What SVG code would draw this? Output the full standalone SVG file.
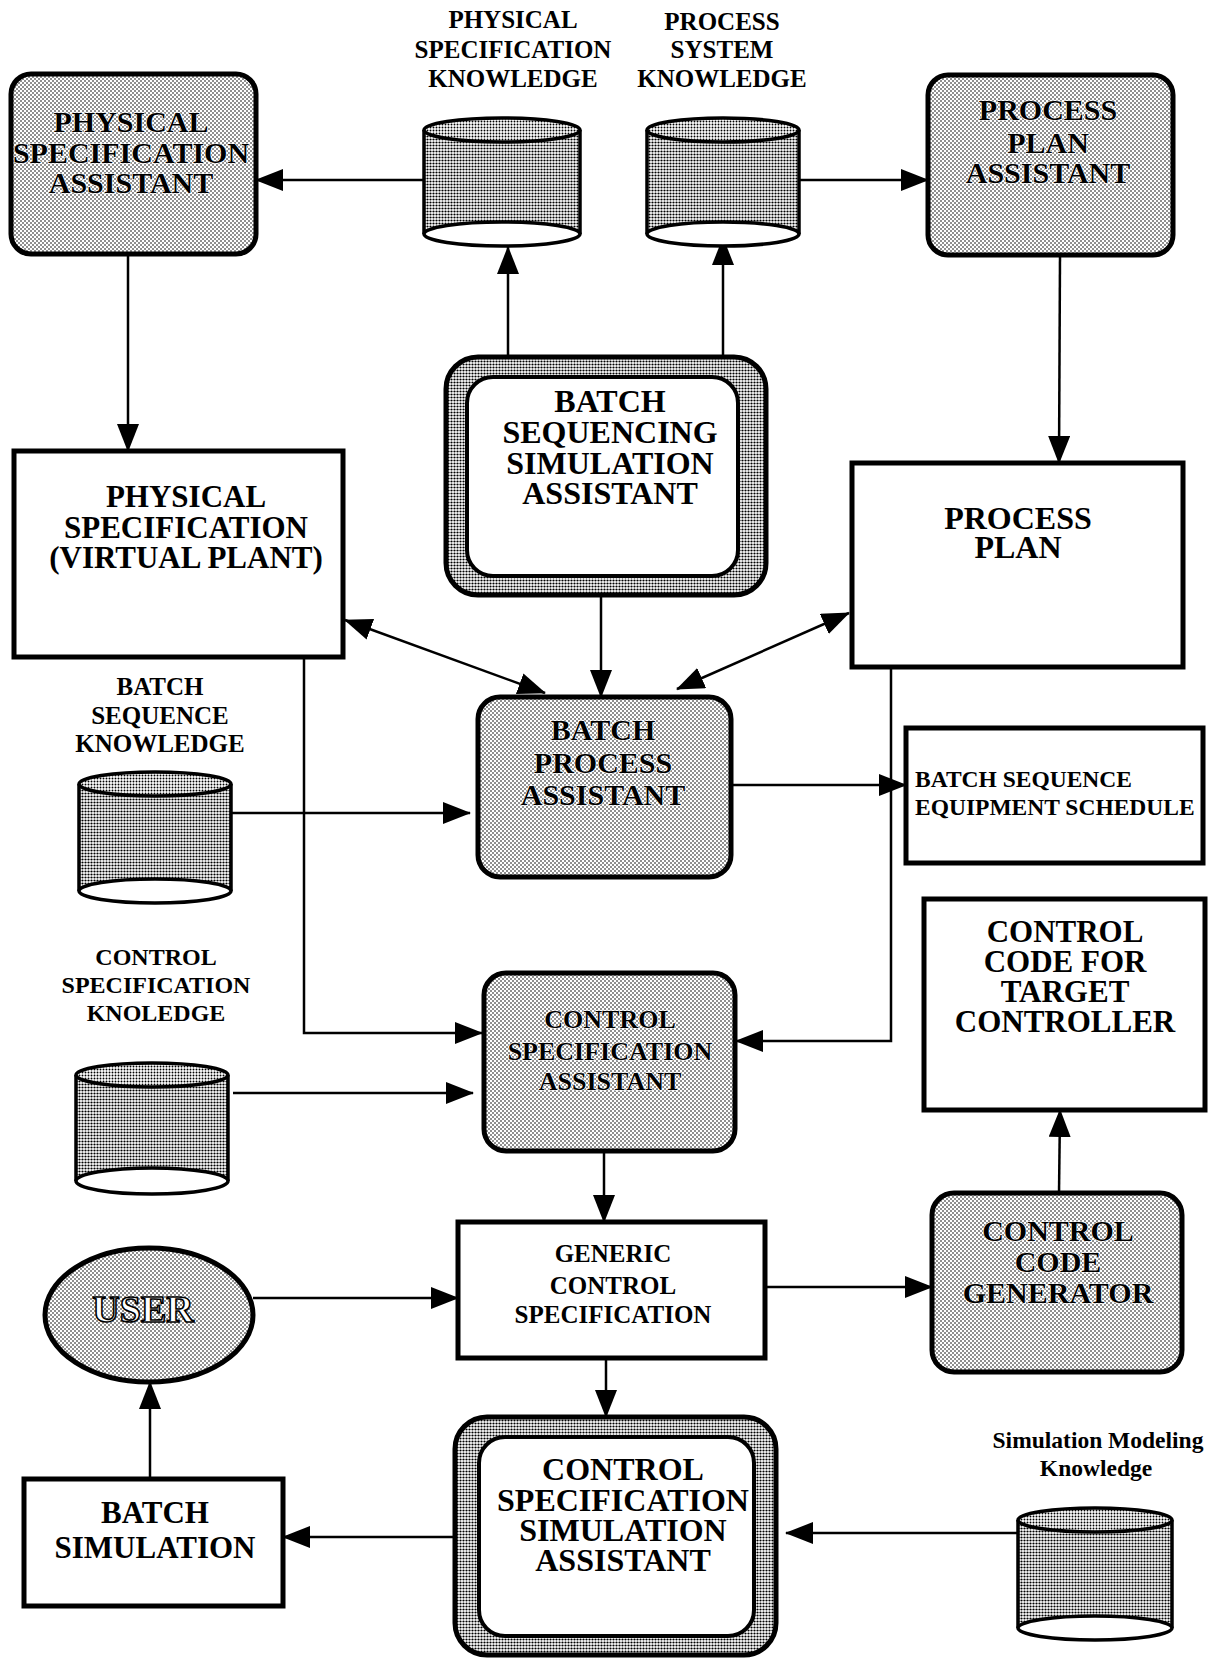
<svg xmlns="http://www.w3.org/2000/svg" width="1213" height="1658" viewBox="0 0 1213 1658">
<style>
.t{font-family:"Liberation Serif","Times New Roman",serif;font-weight:bold;text-anchor:middle;fill:#000}
.tl{text-anchor:start}
.box{fill:#fff;stroke:#000;stroke-width:5}
.sbox{fill:url(#lt);stroke:#000;stroke-width:5}
.ring{fill:url(#dk);stroke:#000;stroke-width:5}
.inner{fill:#fff;stroke:#000;stroke-width:4}
.cb{fill:url(#dk);stroke:none}
.cs{fill:none;stroke:#000;stroke-width:3.5}
.ct{fill:url(#md);stroke:#000;stroke-width:3.5}
.cbot{fill:#fff;stroke:#000;stroke-width:3.5}
.halo{paint-order:stroke;stroke:#fff;stroke-width:1.2}
.c{fill:none;stroke:#000;stroke-width:2.5}
.a{marker-end:url(#ah)}
.b{marker-start:url(#ah);marker-end:url(#ah)}
</style>
<defs>
<pattern id="lt" width="4" height="4" patternUnits="userSpaceOnUse"><rect width="4" height="4" fill="#fff"/><circle cx="1" cy="1" r="0.8" fill="#000"/><circle cx="3" cy="3" r="0.8" fill="#000"/></pattern>
<pattern id="md" width="3" height="3" patternUnits="userSpaceOnUse"><rect width="3" height="3" fill="#fff"/><circle cx="1.5" cy="1.5" r="0.95" fill="#000"/></pattern>
<pattern id="dk" width="3" height="3" patternUnits="userSpaceOnUse"><rect width="3" height="3" fill="#fff"/><circle cx="1.5" cy="1.5" r="1.12" fill="#000"/></pattern>
<marker id="ah" viewBox="0 0 28 22" refX="27" refY="11" markerWidth="28" markerHeight="22" markerUnits="userSpaceOnUse" orient="auto-start-reverse"><path d="M0,0 L28,11 L0,22 Z" fill="#000"/></marker>
</defs>
<rect width="1213" height="1658" fill="#fff"/>

<g id="connectors">
<path class="c a" d="M424,180 L256,180"/>
<path class="c a" d="M799,180 L928,180"/>
<path class="c a" d="M128,254 L128,451"/>
<path class="c a" d="M508,357 L508,247"/>
<path class="c a" d="M723,357 L723,238"/>
<path class="c a" d="M1060,255 L1059,463"/>
<path class="c b" d="M345,620 L545,693"/>
<path class="c b" d="M849,613 L677,689"/>
<path class="c a" d="M601,595 L601,697"/>
<path class="c a" d="M231,813 L470,813"/>
<path class="c a" d="M731,785 L906,785"/>
<path class="c a" d="M304,657 V1033 H482"/>
<path class="c a" d="M891,667 V1041 H736"/>
<path class="c a" d="M233,1093 L473,1093"/>
<path class="c a" d="M604,1151 L604,1222"/>
<path class="c a" d="M765,1287 L932,1287"/>
<path class="c a" d="M1059,1193 L1060,1110"/>
<path class="c a" d="M253,1298 L458,1298"/>
<path class="c a" d="M606,1358 L606,1417"/>
<path class="c a" d="M455,1537 L283,1537"/>
<path class="c a" d="M150,1479 L150,1382"/>
<path class="c a" d="M1018,1533 L786,1533"/>
</g>

<g id="physical-spec-assistant">
<rect class="sbox" x="11" y="74" width="245" height="180" rx="20"/>
<text class="t halo" font-size="30" x="131" y="132">PHYSICAL</text>
<text class="t halo" font-size="30" x="131" y="163">SPECIFICATION</text>
<text class="t halo" font-size="30" x="131" y="193">ASSISTANT</text>
</g>

<g id="physical-spec-knowledge">
<text class="t" font-size="25" x="513" y="28">PHYSICAL</text>
<text class="t" font-size="25" x="513" y="58">SPECIFICATION</text>
<text class="t" font-size="25" x="513" y="87">KNOWLEDGE</text>
<rect class="cb" x="424" y="130" width="156" height="104"/>
<path class="cs" d="M424,130 V234 M580,130 V234"/>
<ellipse class="ct" cx="502" cy="130" rx="78" ry="12"/>
<ellipse class="cbot" cx="502" cy="234" rx="78" ry="12"/>
</g>

<g id="process-system-knowledge">
<text class="t" font-size="25" x="722" y="30">PROCESS</text>
<text class="t" font-size="25" x="722" y="58">SYSTEM</text>
<text class="t" font-size="25" x="722" y="87">KNOWLEDGE</text>
<rect class="cb" x="647" y="130" width="152" height="104"/>
<path class="cs" d="M647,130 V234 M799,130 V234"/>
<ellipse class="ct" cx="723" cy="130" rx="76" ry="12"/>
<ellipse class="cbot" cx="723" cy="234" rx="76" ry="12"/>
</g>

<g id="process-plan-assistant">
<rect class="sbox" x="928" y="75" width="245" height="180" rx="20"/>
<text class="t halo" font-size="30" x="1048" y="120">PROCESS</text>
<text class="t halo" font-size="30" x="1048" y="153">PLAN</text>
<text class="t halo" font-size="30" x="1048" y="183">ASSISTANT</text>
</g>

<g id="batch-sequencing-simulation-assistant">
<rect class="ring" x="446" y="357" width="320" height="238" rx="32"/>
<rect class="inner" x="467" y="377" width="271" height="199" rx="26"/>
<text class="t" font-size="32" x="610" y="412">BATCH</text>
<text class="t" font-size="32" x="610" y="443">SEQUENCING</text>
<text class="t" font-size="32" x="610" y="474">SIMULATION</text>
<text class="t" font-size="32" x="610" y="504">ASSISTANT</text>
</g>

<g id="physical-specification">
<rect class="box" x="14" y="451" width="329" height="206"/>
<text class="t" font-size="31" x="186" y="507">PHYSICAL</text>
<text class="t" font-size="31" x="186" y="538">SPECIFICATION</text>
<text class="t" font-size="31" x="186" y="568">(VIRTUAL PLANT)</text>
</g>

<g id="process-plan">
<rect class="box" x="852" y="463" width="331" height="204"/>
<text class="t" font-size="32" x="1018" y="529">PROCESS</text>
<text class="t" font-size="32" x="1018" y="558">PLAN</text>
</g>

<g id="batch-process-assistant">
<rect class="sbox" x="478" y="697" width="253" height="180" rx="22"/>
<text class="t halo" font-size="30" x="603" y="740">BATCH</text>
<text class="t halo" font-size="30" x="603" y="773">PROCESS</text>
<text class="t halo" font-size="30" x="603" y="805">ASSISTANT</text>
</g>

<g id="batch-sequence-knowledge">
<text class="t" font-size="25" x="160" y="695">BATCH</text>
<text class="t" font-size="25" x="160" y="724">SEQUENCE</text>
<text class="t" font-size="25" x="160" y="752">KNOWLEDGE</text>
<rect class="cb" x="79" y="784" width="152" height="107"/>
<path class="cs" d="M79,784 V891 M231,784 V891"/>
<ellipse class="ct" cx="155" cy="784" rx="76" ry="12"/>
<ellipse class="cbot" cx="155" cy="891" rx="76" ry="12"/>
</g>

<g id="batch-sequence-equipment-schedule">
<rect class="box" x="906" y="728" width="297" height="135"/>
<text class="t tl" font-size="23.5" x="915" y="787">BATCH SEQUENCE</text>
<text class="t tl" font-size="23.5" x="915" y="815">EQUIPMENT SCHEDULE</text>
</g>

<g id="control-specification-knowledge">
<text class="t" font-size="24" x="156" y="965">CONTROL</text>
<text class="t" font-size="24" x="156" y="993">SPECIFICATION</text>
<text class="t" font-size="24" x="156" y="1021">KNOLEDGE</text>
<rect class="cb" x="76" y="1075" width="152" height="106"/>
<path class="cs" d="M76,1075 V1181 M228,1075 V1181"/>
<ellipse class="ct" cx="152" cy="1075" rx="76" ry="12"/>
<ellipse class="cbot" cx="152" cy="1181" rx="76" ry="13"/>
</g>

<g id="control-specification-assistant">
<rect class="sbox" x="484" y="973" width="251" height="178" rx="22"/>
<text class="t halo" font-size="26" x="610" y="1028">CONTROL</text>
<text class="t halo" font-size="26" x="610" y="1060">SPECIFICATION</text>
<text class="t halo" font-size="26" x="610" y="1090">ASSISTANT</text>
</g>

<g id="control-code-for-target-controller">
<rect class="box" x="924" y="899" width="281" height="211"/>
<text class="t" font-size="31" x="1065" y="942">CONTROL</text>
<text class="t" font-size="31" x="1065" y="972">CODE FOR</text>
<text class="t" font-size="31" x="1065" y="1002">TARGET</text>
<text class="t" font-size="31" x="1065" y="1032">CONTROLLER</text>
</g>

<g id="generic-control-specification">
<rect class="box" x="458" y="1222" width="307" height="136"/>
<text class="t" font-size="25" x="613" y="1262">GENERIC</text>
<text class="t" font-size="25" x="613" y="1294">CONTROL</text>
<text class="t" font-size="25" x="613" y="1323">SPECIFICATION</text>
</g>

<g id="control-code-generator">
<rect class="sbox" x="932" y="1193" width="250" height="179" rx="22"/>
<text class="t halo" font-size="30" x="1058" y="1241">CONTROL</text>
<text class="t halo" font-size="30" x="1058" y="1272">CODE</text>
<text class="t halo" font-size="30" x="1058" y="1303">GENERATOR</text>
</g>

<g id="user">
<ellipse class="sbox" cx="149" cy="1315" rx="104" ry="67"/>
<text class="t" font-size="38" x="143" y="1322" style="fill:#fff;stroke:#000;stroke-width:1.6">USER</text>
</g>

<g id="batch-simulation">
<rect class="box" x="24" y="1479" width="259" height="127"/>
<text class="t" font-size="31" x="155" y="1523">BATCH</text>
<text class="t" font-size="31" x="155" y="1558">SIMULATION</text>
</g>

<g id="control-specification-simulation-assistant">
<rect class="ring" x="455" y="1417" width="321" height="238" rx="32"/>
<rect class="inner" x="479" y="1437" width="275" height="199" rx="26"/>
<text class="t" font-size="32" x="623" y="1480">CONTROL</text>
<text class="t" font-size="32" x="623" y="1511">SPECIFICATION</text>
<text class="t" font-size="32" x="623" y="1541">SIMULATION</text>
<text class="t" font-size="32" x="623" y="1571">ASSISTANT</text>
</g>

<g id="simulation-modeling-knowledge">
<text class="t" font-size="23.5" x="1098" y="1448">Simulation Modeling</text>
<text class="t" font-size="23.5" x="1096" y="1476">Knowledge</text>
<rect class="cb" x="1018" y="1520" width="154" height="108"/>
<path class="cs" d="M1018,1520 V1628 M1172,1520 V1628"/>
<ellipse class="ct" cx="1095" cy="1520" rx="77" ry="12"/>
<ellipse class="cbot" cx="1095" cy="1628" rx="77" ry="12"/>
</g>
</svg>
